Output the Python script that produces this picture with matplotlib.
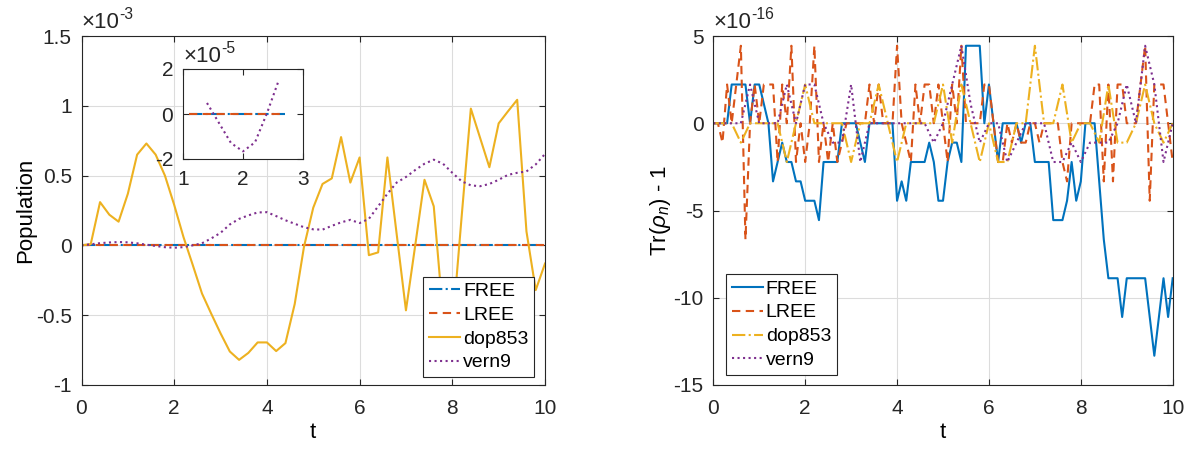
import numpy as np
import matplotlib
matplotlib.use("Agg")
import matplotlib.pyplot as plt

plt.rcParams['font.family'] = ['Liberation Sans', 'DejaVu Sans']
plt.rcParams['mathtext.fontset'] = 'custom'
plt.rcParams['mathtext.rm'] = 'Liberation Sans'
plt.rcParams['mathtext.it'] = 'Liberation Sans:italic'

# ---------------- population (units of 1e-3) ----------------
t_pop = np.round(np.arange(0, 10.0001, 0.2), 10)
t_fixed = np.round(np.arange(0, 10.0001, 0.1), 10)
pop_free = np.zeros_like(t_fixed)
pop_lree = np.zeros_like(t_fixed)
pop_dop853 = [0.0, 0.01, 0.31, 0.22, 0.17, 0.37, 0.65, 0.73, 0.65, 0.50,
              0.29, 0.06, -0.14, -0.345, -0.49, -0.63, -0.76, -0.82, -0.77, -0.695,
              -0.695, -0.757, -0.70, -0.42, -0.01, 0.27, 0.44, 0.48, 0.776, 0.45,
              0.63, -0.07, -0.05, 0.63, 0.08, -0.465, 0.0, 0.47, 0.28, -0.50,
              -0.60, 0.20, 0.98, 0.77, 0.56, 0.874, 0.96, 1.043, 0.10, -0.32,
              -0.13]
pop_vern9 = [0.0, 0.008, 0.016, 0.021, 0.024, 0.022, 0.015, 0.0049, -0.004, -0.0129,
             -0.0166, -0.0126, 0.0004, 0.0153, 0.05, 0.09, 0.15, 0.19, 0.215, 0.236,
             0.238, 0.21, 0.18, 0.155, 0.13, 0.115, 0.113, 0.14, 0.165, 0.183,
             0.16, 0.19, 0.28, 0.37, 0.45, 0.49, 0.54, 0.585, 0.614, 0.585,
             0.52, 0.46, 0.43, 0.424, 0.44, 0.47, 0.505, 0.52, 0.53, 0.58,
             0.655]

# inset close-up (units of 1e-5)
t_inset_ref = [1.1, 1.3, 1.5, 1.7, 1.9, 2.1, 2.3, 2.5, 2.7]
inset_free = [0.0] * len(t_inset_ref)
inset_lree = [0.0] * len(t_inset_ref)
t_inset_vern9 = [1.4, 1.6, 1.8, 2.0, 2.2, 2.4, 2.6]
inset_vern9 = [0.49, -0.4, -1.29, -1.66, -1.26, 0.04, 1.53]

# ---------------- trace error, in units of 2**-53 ----------------
# fixed-step propagators are sampled every 0.1, the adaptive solvers every 0.2
tr_free = [0, 0, 0, 0, 2, 2, 2, 2, 0, 2,
           2, 1, 0, -3, -2, -1, -2, -2, -3, -3,
           -4, -4, -4, -5, -2, -2, -2, -2, 0, 0,
           0, 0, -1, -2, 0, 0, 0, 0, 0, 0,
           -4, -3, -4, -2, -2, -2, -2, -1, -2, -4,
           -4, -2, -1, -1, -2, 4, 4, 4, 4, 0,
           2, 0, -2, 0, 0, 0, 0, -1, 0, 0,
           -2, -2, -2, -2, -5, -5, -5, -4, -2, -4,
           -3, 0, 0, 0, -3, -6, -8, -8, -8, -10,
           -8, -8, -8, -8, -8, -10, -12, -10, -8, -10,
           -8]
tr_lree = [0, 0, -1, 2, 0, 2, 4, -6, 0, 2,
           0, 2, 2, 2, -2, 2, 0, 4, -2, 0,
           -2, 0, 4, -2, 0, -2, 0, -2, -1, 0,
           0, 0, 0, 0, 2, 0, 2, 0, 0, 0,
           4, 0, -1, -2, 2, 0, 2, 2, 0, 2,
           0, -2, 2, 0, 4, 0, 0, 0, 0, 2,
           2, 0, -2, -2, 0, -1, 0, -1, -1, 0,
           0, -1, 0, 0, 0, 0, -2, -3, 0, 0,
           0, 0, 0, 2, 2, -3, 2, -3, 2, 2,
           0, 0, 0, 2, 4, -4, 2, 2, 2, 0,
           -2]
tr_dop853 = [0, 0, 0, -1, 0, 0, 0, 0, -2, 0,
             2, 0, 0, 0, 0, -2, 0, 0, 2, 0,
             -2, 0, 0, 0, 0, 2, -1, 2, 0, -2,
             0, -2, -2, 0, 0, 4, 0, 0, 2, -1,
             0, 0, -1, 2, -1, -1, 0, 2, 0, -1,
             0]
tr_vern9 = [0, 0, 0, 0, 2, 0, 0, 0, 2, 0,
            2, 2, 0, -1, -1, 2, -2, 0, 0, 0,
            0, 0, 0, 0, -1, 0, 2, 4, 1, -1,
            0, 0, -2, -1, 0, 0, 0, -2, -2, -1,
            -2, -1, -1, -1, 0, 2, 0, 4, 2, -2,
            0]

TR_UNIT = 2.0 ** -53  # half machine epsilon

BLUE = '#0072BD'
ORANGE = '#D95319'
YELLOW = '#EDB120'
PURPLE = '#7E2F8E'
LW = 1.5
DASH = (4, 2.6)
FS = 15        # tick labels
FS_LAB = 16    # axis labels
FS_LEG = 14    # legend entries
INK = '#262626'

fig = plt.figure(figsize=(11.92, 4.5), dpi=100)


def style_axes(ax, grid=True):
    ax.tick_params(direction='in', which='both', top=True, right=True,
                   length=4, width=0.8, labelsize=FS, pad=7, colors=INK)
    ax.tick_params(axis='x', pad=10)
    for sp in ax.spines.values():
        sp.set_color(INK)
        sp.set_linewidth(0.8)
    if grid:
        ax.grid(True, color='#dcdcdc', linewidth=0.8)
        ax.set_axisbelow(True)


def legend(ax, **kw):
    leg = ax.legend(borderaxespad=0, fontsize=FS_LEG, handlelength=1.6,
                    handletextpad=0.15, labelspacing=0.32, borderpad=0.3,
                    fancybox=False, framealpha=1, edgecolor=INK, **kw)
    leg.get_frame().set_linewidth(0.8)
    return leg


def multiplier(ax, exponent, y=1.008):
    """Write the 'x10^n' axis multiplier above the top-left corner."""
    base = ax.text(0.0, y, '\u00d710', transform=ax.transAxes, fontsize=FS + 1,
                   ha='left', va='bottom', color=INK)
    fig.canvas.draw()
    bb = base.get_window_extent()
    inv = ax.transAxes.inverted()
    x1, y1 = inv.transform((bb.x1, bb.y0 + 0.55 * bb.height))
    ax.text(x1, y1, exponent, transform=ax.transAxes, fontsize=FS * 0.75,
            ha='left', va='bottom', color=INK)


# ---- left panel
ax1 = fig.add_axes([81.5 / 1192, 1 - 385 / 450, 463.5 / 1192, 349 / 450])
ax1.plot(t_fixed, pop_free, '-.', color=BLUE, lw=LW, label='FREE')
ax1.plot(t_fixed, pop_lree, '--', color=ORANGE, lw=LW, label='LREE', dashes=DASH)
ax1.plot(t_pop, pop_dop853, '-', color=YELLOW, lw=LW, label='dop853')
ax1.plot(t_pop, pop_vern9, ':', color=PURPLE, lw=LW, label='vern9')
ax1.set_xlim(0, 10)
ax1.set_ylim(-1, 1.5)
ax1.set_xticks([0, 2, 4, 6, 8, 10])
ax1.set_yticks([-1, -0.5, 0, 0.5, 1, 1.5])
ax1.set_yticklabels(['-1', '-0.5', '0', '0.5', '1', '1.5'])
style_axes(ax1)
ax1.set_xlabel('t', fontsize=FS_LAB, labelpad=3)
ax1.set_ylabel('Population', fontsize=FS_LAB, labelpad=0)
multiplier(ax1, '-3')
legend(ax1, loc='lower right', bbox_to_anchor=(0.977, 0.022))

# ---- inset
axi = fig.add_axes([183 / 1192, 1 - 159 / 450, 120 / 1192, 90 / 450])
axi.plot(t_inset_ref, inset_free, '-.', color=BLUE, lw=LW)
axi.plot(t_inset_ref, inset_lree, '--', color=ORANGE, lw=LW, dashes=DASH)
axi.plot(t_inset_vern9, inset_vern9, ':', color=PURPLE, lw=LW)
axi.set_xlim(1, 3)
axi.set_ylim(-2, 2)
axi.set_xticks([1, 2, 3])
axi.set_yticks([-2, 0, 2])
axi.set_yticklabels(['-2', '0', '2'])
style_axes(axi, grid=False)
axi.tick_params(axis='x', pad=8)
multiplier(axi, '-5', y=1.02)

# ---- right panel
ax2 = fig.add_axes([713.3 / 1192, 1 - 385 / 450, 459.4 / 1192, 349 / 450])
scale = TR_UNIT / 1e-16
ax2.plot(t_fixed, np.array(tr_free) * scale, '-', color=BLUE, lw=LW, label='FREE')
ax2.plot(t_fixed, np.array(tr_lree) * scale, '--', color=ORANGE, lw=LW, label='LREE', dashes=DASH)
ax2.plot(t_pop, np.array(tr_dop853) * scale, '-.', color=YELLOW, lw=LW, label='dop853')
ax2.plot(t_pop, np.array(tr_vern9) * scale, ':', color=PURPLE, lw=LW, label='vern9')
ax2.set_xlim(0, 10)
ax2.set_ylim(-15, 5)
ax2.set_xticks([0, 2, 4, 6, 8, 10])
ax2.set_yticks([-15, -10, -5, 0, 5])
ax2.set_yticklabels(['-15', '-10', '-5', '0', '5'])
style_axes(ax2)
ax2.set_xlabel('t', fontsize=FS_LAB, labelpad=3)
ax2.set_ylabel(r'Tr($\rho_n$) - 1', fontsize=FS_LAB, labelpad=0)
multiplier(ax2, '-16')
legend(ax2, loc='lower left', bbox_to_anchor=(0.0276, 0.0287))

fig.savefig('out.png', dpi=100)
